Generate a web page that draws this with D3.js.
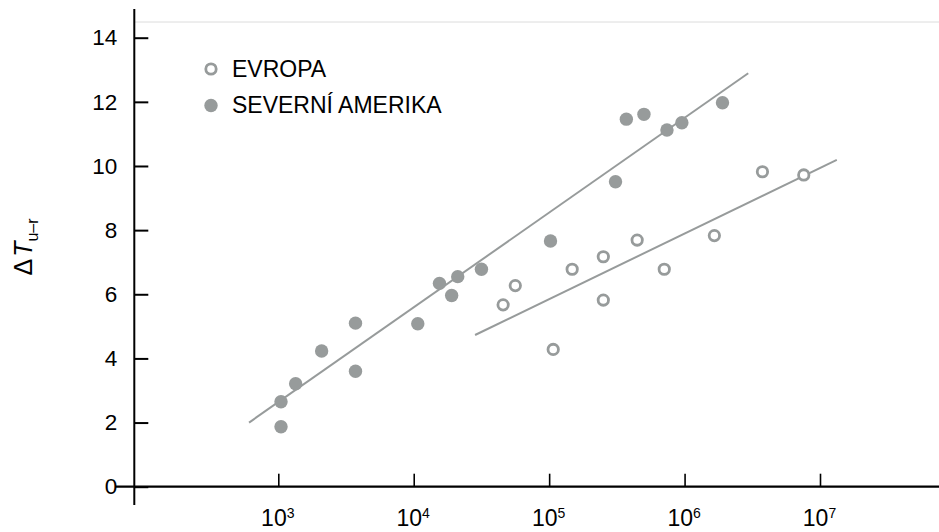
<!DOCTYPE html>
<html><head><meta charset="utf-8">
<script src="https://cdn.jsdelivr.net/npm/d3@7"></script>
<style>
html,body{margin:0;padding:0;background:#fff;}
svg{display:block;font-family:"Liberation Sans",Arial,sans-serif;}
</style></head>
<body><svg id="c" width="939" height="532"></svg>
<script>
// ---- data ----
const seriesNames = ["EVROPA", "SEVERNÍ AMERIKA"];
// log10 of x values and ΔT values
const europeLogX = [4.66, 4.75, 5.03, 5.17, 5.40, 5.40, 5.65, 5.85, 6.22, 6.575, 6.88];
const europeY    = [5.67, 6.27, 4.28, 6.78, 7.17, 5.82, 7.69, 6.78, 7.83, 9.82, 9.72];
const naLogX = [3.02, 3.02, 3.128, 3.32, 3.57, 3.57, 4.03, 4.19, 4.28, 4.325, 4.50, 5.01, 5.49, 5.57, 5.70, 5.87, 5.98, 6.28];
const naY    = [1.87, 2.65, 3.21, 4.23, 5.10, 3.60, 5.08, 6.34, 5.96, 6.55, 6.78, 7.66, 9.51, 11.46, 11.61, 11.12, 11.35, 11.97];
// fitted lines: [log10 x, y] endpoints
const europeFitLogX = [4.453, 7.124];
const europeFitY    = [4.73, 10.19];
const naFitLogX = [2.784, 6.47];
const naFitY    = [2.0, 12.89];
const xTickExp = [3, 4, 5, 6, 7];
const yTicks = [0, 2, 4, 6, 8, 10, 12, 14];

// ---- drawing ----
const svg = d3.select("#c");
const grey = "#979b9b";
const x = d3.scaleLog().domain([1e3, 1e7]).range([278.3, 820]);
const y = d3.scaleLinear().domain([0, 14]).range([486.7, 37.7]);

// top thin line
svg.append("line").attr("x1", 134).attr("x2", 939).attr("y1", 22).attr("y2", 22)
  .attr("stroke", "#dcdcdc").attr("stroke-width", 1);

// y axis
const gy = svg.append("g").attr("transform", "translate(134.3,0)")
  .call(d3.axisLeft(y).tickValues(yTicks).tickSizeInner(-14).tickSizeOuter(0).tickPadding(17).tickFormat(d3.format("d")));
gy.select(".domain").remove();
gy.selectAll(".tick line").attr("stroke", "#000").attr("stroke-width", 2);
gy.selectAll(".tick text").attr("font-size", 22.5).attr("fill", "#000").attr("font-family", "Liberation Sans, Arial, sans-serif");
svg.append("line").attr("x1", 134.3).attr("x2", 134.3).attr("y1", 9).attr("y2", 505)
  .attr("stroke", "#000").attr("stroke-width", 2);

// x axis
const gx = svg.append("g").attr("transform", "translate(0,486.7)")
  .call(d3.axisBottom(x).tickValues(xTickExp.map(e => Math.pow(10, e))).tickSizeInner(-13).tickSizeOuter(0).tickPadding(23).tickFormat(() => ""));
gx.select(".domain").remove();
gx.selectAll(".tick line").attr("stroke", "#000").attr("stroke-width", 1.6);
gx.selectAll(".tick text").each(function(d, i) {
  const t = d3.select(this).text("").attr("font-size", 23).attr("fill", "#000")
    .attr("font-family", "Liberation Sans, Arial, sans-serif").attr("dx", -1);
  t.append("tspan").text("10");
  t.append("tspan").attr("font-size", 14).attr("dy", -8).text(xTickExp[i]);
});
svg.append("line").attr("x1", 115).attr("x2", 939).attr("y1", 486.7).attr("y2", 486.7)
  .attr("stroke", "#000").attr("stroke-width", 2.2);

// y axis title
const yt = svg.append("text").attr("transform", "translate(32,247) rotate(-90)")
  .attr("text-anchor", "middle").attr("font-size", 25).attr("fill", "#000");
yt.append("tspan").text("Δ");
yt.append("tspan").attr("font-style", "italic").attr("dx", 2).text("T");
yt.append("tspan").attr("font-size", 16).attr("dy", 6).text("u–r");

// fit lines
const line = d3.line().x(d => x(Math.pow(10, d[0]))).y(d => y(d[1]));
svg.append("path").datum(naFitLogX.map((v, i) => [v, naFitY[i]])).attr("d", line)
  .attr("stroke", grey).attr("stroke-width", 2).attr("fill", "none");
svg.append("path").datum(europeFitLogX.map((v, i) => [v, europeFitY[i]])).attr("d", line)
  .attr("stroke", grey).attr("stroke-width", 2).attr("fill", "none");

// points
svg.append("g").selectAll("circle").data(naLogX.map((v, i) => [v, naY[i]])).join("circle")
  .attr("cx", d => x(Math.pow(10, d[0]))).attr("cy", d => y(d[1])).attr("r", 6.7).attr("fill", grey);
svg.append("g").selectAll("circle").data(europeLogX.map((v, i) => [v, europeY[i]])).join("circle")
  .attr("cx", d => x(Math.pow(10, d[0]))).attr("cy", d => y(d[1])).attr("r", 5.2)
  .attr("fill", "#fff").attr("stroke", grey).attr("stroke-width", 2.8);

// legend
const lg = svg.append("g");
lg.append("circle").attr("cx", 211).attr("cy", 69).attr("r", 5.2).attr("fill", "#fff").attr("stroke", grey).attr("stroke-width", 2.8);
lg.append("circle").attr("cx", 211).attr("cy", 105.5).attr("r", 6.7).attr("fill", grey);
seriesNames.forEach((n, i) => {
  lg.append("text").attr("x", 232).attr("y", [76.5, 113][i]).attr("font-size", 23).attr("fill", "#000").text(n);
});
</script></body></html>
